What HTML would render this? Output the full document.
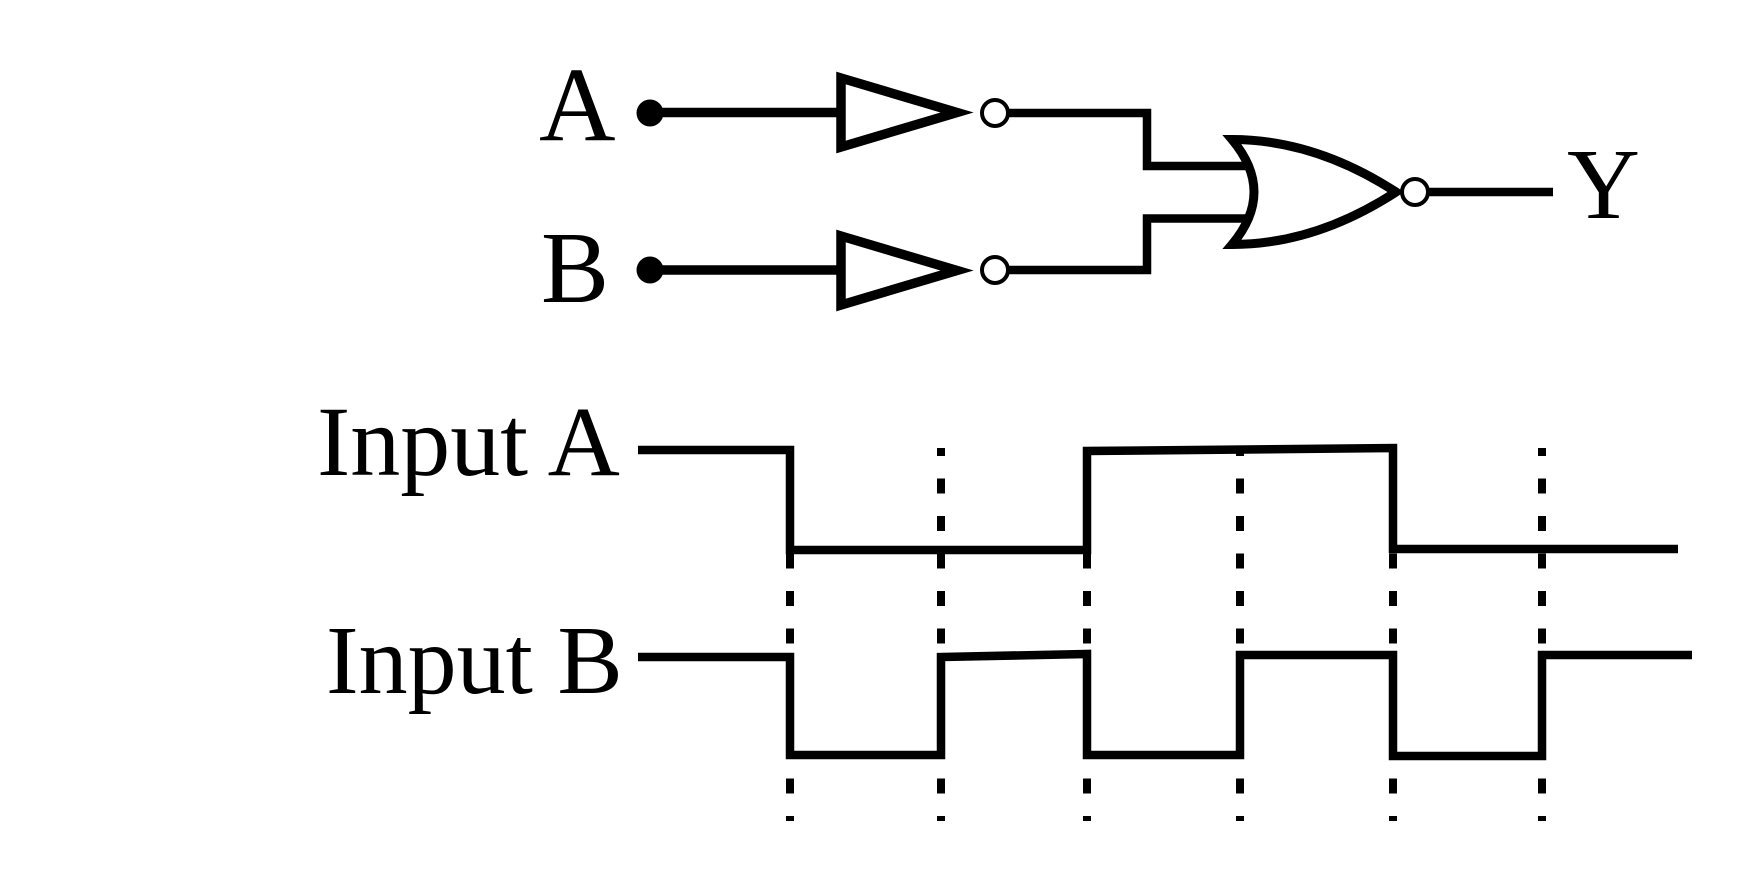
<!DOCTYPE html>
<html>
<head>
<meta charset="utf-8">
<style>
html,body{margin:0;padding:0;background:#fff;}
svg{display:block;}
text{font-family:"Liberation Serif","Times New Roman",serif;fill:#000;}
</style>
</head>
<body>
<svg width="1748" height="886" viewBox="0 0 1748 886" xmlns="http://www.w3.org/2000/svg">
<rect width="1748" height="886" fill="#fff"/>
<!-- Labels -->
<text x="539" y="140" font-size="106">A</text>
<text x="541" y="302" font-size="102">B</text>
<text x="1567" y="218" font-size="101">Y</text>
<text x="317" y="475" font-size="100">Input A</text>
<text x="326" y="693" font-size="98">Input B</text>

<g stroke="#000" fill="none" stroke-width="9.5" stroke-linejoin="miter" stroke-miterlimit="10">
  <!-- input dots -->
  <circle cx="650" cy="113" r="13.5" fill="#000" stroke="none"/>
  <circle cx="650" cy="270" r="13.5" fill="#000" stroke="none"/>
  <!-- wires to inverters -->
  <line x1="650" y1="112.5" x2="841" y2="112.5"/>
  <line x1="650" y1="270" x2="841" y2="270"/>
  <!-- inverter triangles -->
  <path d="M841,78 L957,112.5 L841,147 Z" fill="#fff"/>
  <path d="M841,236 L957,270.5 L841,305 Z" fill="#fff"/>
  <!-- bubbles -->
  <circle cx="995" cy="113" r="13" stroke-width="4" fill="#fff"/>
  <circle cx="995" cy="270" r="13" stroke-width="4" fill="#fff"/>
  <!-- wires to OR -->
  <path d="M1008,113 H1147 V166 H1252" stroke-width="8.5"/>
  <path d="M1008,270 H1147 V218.5 H1252" stroke-width="8.5"/>
  <!-- NOR body -->
  <path d="M1232,139.5 Q1315,139.5 1396,192 Q1315,244.5 1232,244.5 Q1276,192 1232,139.5 Z" fill="#fff" stroke-width="9"/>
  <circle cx="1415" cy="192" r="13" stroke-width="4" fill="#fff"/>
  <line x1="1428" y1="192" x2="1553" y2="192" stroke-width="8.5"/>
</g>

<!-- dashed guide lines -->
<g stroke="#000" stroke-width="8" stroke-dasharray="15 22.5" stroke-dashoffset="7" fill="none">
  <line x1="790" y1="448" x2="790" y2="821"/>
  <line x1="941" y1="448" x2="941" y2="821"/>
  <line x1="1087" y1="448" x2="1087" y2="821"/>
  <line x1="1240" y1="448" x2="1240" y2="821"/>
  <line x1="1393" y1="448" x2="1393" y2="821"/>
  <line x1="1542" y1="448" x2="1542" y2="821"/>
</g>

<!-- waveforms -->
<g stroke="#000" stroke-width="8.5" fill="none" stroke-linejoin="miter">
  <path d="M638,450 H790 V550 H1087 V451 L1393,448 V549 H1678"/>
  <path d="M638,657 H790 V755 H941 V657 L1087,654 V755 H1240 V655 H1393 V756 H1542 V655 H1692"/>
</g>
</svg>
</body>
</html>
